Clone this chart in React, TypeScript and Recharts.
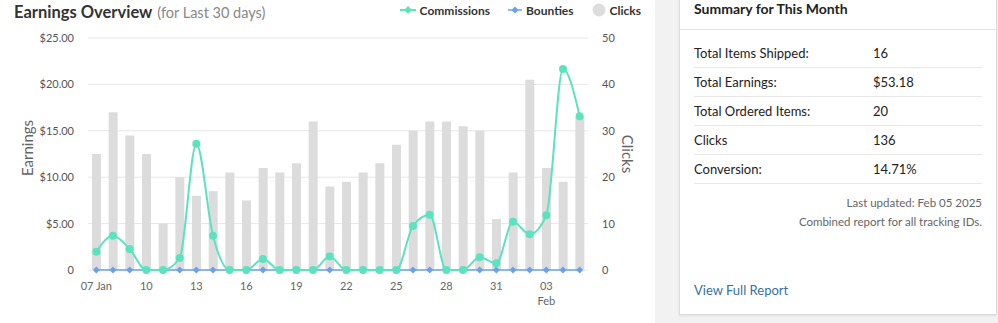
import React from 'react';
import { ComposedChart, Bar, Line, XAxis, YAxis, CartesianGrid, Label } from 'recharts';

const categories = [
  'Jan 07', 'Jan 08', 'Jan 09', 'Jan 10', 'Jan 11', 'Jan 12', 'Jan 13', 'Jan 14', 'Jan 15', 'Jan 16',
  'Jan 17', 'Jan 18', 'Jan 19', 'Jan 20', 'Jan 21', 'Jan 22', 'Jan 23', 'Jan 24', 'Jan 25', 'Jan 26',
  'Jan 27', 'Jan 28', 'Jan 29', 'Jan 30', 'Jan 31', 'Feb 01', 'Feb 02', 'Feb 03', 'Feb 04', 'Feb 05',
];
const commissions = [
  1.97, 3.7, 2.26, 0, 0, 1.29, 13.61, 3.7, 0, 0,
  1.19, 0, 0, 0, 1.45, 0, 0, 0, 0, 4.74,
  5.96, 0, 0, 1.37, 0.72, 5.2, 3.85, 5.9, 21.65, 16.58,
];
const bounties = [
  0, 0, 0, 0, 0, 0, 0, 0, 0, 0,
  0, 0, 0, 0, 0, 0, 0, 0, 0, 0,
  0, 0, 0, 0, 0, 0, 0, 0, 0, 0,
];
const clicks = [
  25, 34, 29, 25, 10, 20, 16, 17, 21, 15,
  22, 21, 23, 32, 18, 19, 21, 23, 27, 30,
  32, 32, 31, 30, 11, 21, 41, 22, 19, 33,
];
const earningsTicks = [0, 5, 10, 15, 20, 25];
const clicksTicks = [0, 10, 20, 30, 40, 50];

const summaryRows = [
  ['Total Items Shipped:', '16'],
  ['Total Earnings:', '$53.18'],
  ['Total Ordered Items:', '20'],
  ['Clicks', '136'],
  ['Conversion:', '14.71%'],
];

const data = categories.map((c, i) => ({
  date: c,
  commissions: commissions[i],
  bounties: bounties[i],
  clicks: clicks[i],
}));

const TEAL = '#5de2bf';
const BLUE = '#6ca0ea';
const GRAY_BAR = '#dcdcdc';
const FONT = 'Lato, "Open Sans", sans-serif';

const XTick = (props: any) => {
  const { x, y, payload } = props;
  const i = categories.indexOf(payload.value);
  const [mon, day] = String(payload.value).split(' ');
  const prevMon = i >= 3 ? categories[i - 3].split(' ')[0] : mon;
  const first = i === 0 ? `${day} ${mon}` : day;
  const second = i > 0 && prevMon !== mon ? mon : null;
  return (
    <g>
      <text x={x} y={y + 10} dy="0.71em" textAnchor="middle" fill="#666" fontSize={11} fontFamily={FONT}>
        {first}
      </text>
      {second && (
        <text x={x} y={y + 25} dy="0.71em" textAnchor="middle" fill="#666" fontSize={11} fontFamily={FONT}>
          {second}
        </text>
      )}
    </g>
  );
};

const Diamond = (props: any) => {
  const { cx, cy } = props;
  if (cx == null || cy == null) return null;
  const s = 3.5;
  return <path d={`M${cx},${cy - s}L${cx + s},${cy}L${cx},${cy + s}L${cx - s},${cy}Z`} fill={BLUE} />;
};

const LegendItem = ({ icon, text }: { icon: React.ReactNode; text: string }) => (
  <div style={{ display: 'flex', alignItems: 'center', marginLeft: 18 }}>
    {icon}
    <span style={{ fontWeight: 700, fontSize: 12, color: '#333', marginLeft: 4 }}>{text}</span>
  </div>
);

export default function App() {
  return (
    <div
      style={{
        position: 'absolute',
        left: 0,
        top: 0,
        width: 998,
        height: 323,
        background: '#f2f2f2',
        overflow: 'hidden',
        fontFamily: FONT,
      }}
    >
      <div style={{ position: 'absolute', left: 0, top: 0, width: 655, height: 323, background: '#fff' }}>
        <ComposedChart
          width={655}
          height={323}
          data={data}
          margin={{ top: 38, right: 0, bottom: 23, left: 0 }}
        >
          <CartesianGrid vertical={false} stroke="#e6e6e6" yAxisId="left" />
          <XAxis
            dataKey="date"
            interval={2}
            axisLine={false}
            tickLine={false}
            tickSize={0}
            height={30}
            tick={<XTick />}
          />
          <YAxis
            yAxisId="left"
            orientation="left"
            width={88}
            domain={[0, 25]}
            ticks={earningsTicks}
            axisLine={false}
            tickLine={false}
            tickSize={0}
            tickMargin={14}
            tick={{ fill: '#555', fontSize: 11, fontFamily: FONT }}
            tickFormatter={(v: number) => (v === 0 ? '0' : `$${v.toFixed(2)}`)}
          >
            <Label
              content={() => (
                <text
                  x={27}
                  y={148}
                  transform="rotate(-90 27 148)"
                  textAnchor="middle"
                  dominantBaseline="central"
                  fill="#666"
                  fontSize={15}
                  fontFamily={FONT}
                >
                  Earnings
                </text>
              )}
            />
          </YAxis>
          <YAxis
            yAxisId="right"
            orientation="right"
            width={67}
            domain={[0, 50]}
            ticks={clicksTicks}
            axisLine={false}
            tickLine={false}
            tickSize={0}
            tickMargin={14}
            tick={{ fill: '#555', fontSize: 11, fontFamily: FONT }}
          >
            <Label
              content={() => (
                <text
                  x={628}
                  y={154}
                  transform="rotate(90 628 154)"
                  textAnchor="middle"
                  dominantBaseline="central"
                  fill="#666"
                  fontSize={15}
                  fontFamily={FONT}
                >
                  Clicks
                </text>
              )}
            />
          </YAxis>
          <Bar yAxisId="right" dataKey="clicks" fill={GRAY_BAR} barSize={9} isAnimationActive={false} />
          <Line
            yAxisId="left"
            dataKey="bounties"
            type="monotone"
            stroke={BLUE}
            strokeWidth={1.5}
            dot={<Diamond />}
            activeDot={false}
            isAnimationActive={false}
          />
          <Line
            yAxisId="left"
            dataKey="commissions"
            type="monotone"
            stroke={TEAL}
            strokeWidth={2}
            dot={{ r: 4, fill: TEAL, stroke: 'none' }}
            activeDot={false}
            isAnimationActive={false}
          />
        </ComposedChart>

        <div style={{ position: 'absolute', left: 14, top: 2, lineHeight: '20px', whiteSpace: 'nowrap' }}>
          <span style={{ fontSize: 16.5, fontWeight: 700, color: '#333' }}>Earnings Overview</span>
          <span style={{ fontSize: 14.5, color: '#888', marginLeft: 5 }}>(for Last 30 days)</span>
        </div>

        <div style={{ position: 'absolute', right: 14, top: 2, height: 16, display: 'flex', alignItems: 'center' }}>
          <LegendItem
            text="Commissions"
            icon={
              <svg width={16} height={10}>
                <line x1={0} y1={5} x2={16} y2={5} stroke={TEAL} strokeWidth={2} />
                <path d="M8,1L12,5L8,9L4,5Z" fill={TEAL} />
              </svg>
            }
          />
          <LegendItem
            text="Bounties"
            icon={
              <svg width={14} height={10}>
                <line x1={0} y1={5} x2={14} y2={5} stroke={BLUE} strokeWidth={1.5} />
                <path d="M7,1.5L10.5,5L7,8.5L3.5,5Z" fill={BLUE} />
              </svg>
            }
          />
          <LegendItem
            text="Clicks"
            icon={
              <svg width={14} height={14}>
                <circle cx={7} cy={7} r={6.5} fill="#dddddd" />
              </svg>
            }
          />
        </div>
      </div>

      <div
        style={{
          position: 'absolute',
          left: 679,
          top: -12,
          width: 316,
          height: 325,
          background: '#fff',
          border: '1px solid #dddddd',
          boxShadow: '0 1px 2px rgba(0,0,0,0.08)',
        }}
      >
        <div
          style={{
            height: 41,
            borderBottom: '1px solid #e3e3e3',
            boxSizing: 'border-box',
            padding: '0 14px',
            display: 'flex',
            alignItems: 'flex-end',
          }}
        >
          <span style={{ fontSize: 14, fontWeight: 700, color: '#222', lineHeight: '20px', marginBottom: 10 }}>
            Summary for This Month
          </span>
        </div>
        <div style={{ padding: '9px 14px 0 14px' }}>
          {summaryRows.map(([k, v]) => (
            <div
              key={k}
              style={{
                height: 29,
                borderBottom: '1px solid #e8e8e8',
                boxSizing: 'border-box',
                display: 'flex',
                alignItems: 'center',
                fontSize: 13,
                color: '#222',
              }}
            >
              <span style={{ width: 179 }}>{k}</span>
              <span>{v}</span>
            </div>
          ))}
          <div style={{ textAlign: 'right', fontSize: 11.5, color: '#666', marginTop: 9, lineHeight: '19px' }}>
            <div>Last updated: Feb 05 2025</div>
            <div>Combined report for all tracking IDs.</div>
          </div>
          <div style={{ position: 'absolute', left: 14, top: 292, fontSize: 13, color: '#3a6fa0', lineHeight: '18px' }}>
            View Full Report
          </div>
        </div>
      </div>
    </div>
  );
}
